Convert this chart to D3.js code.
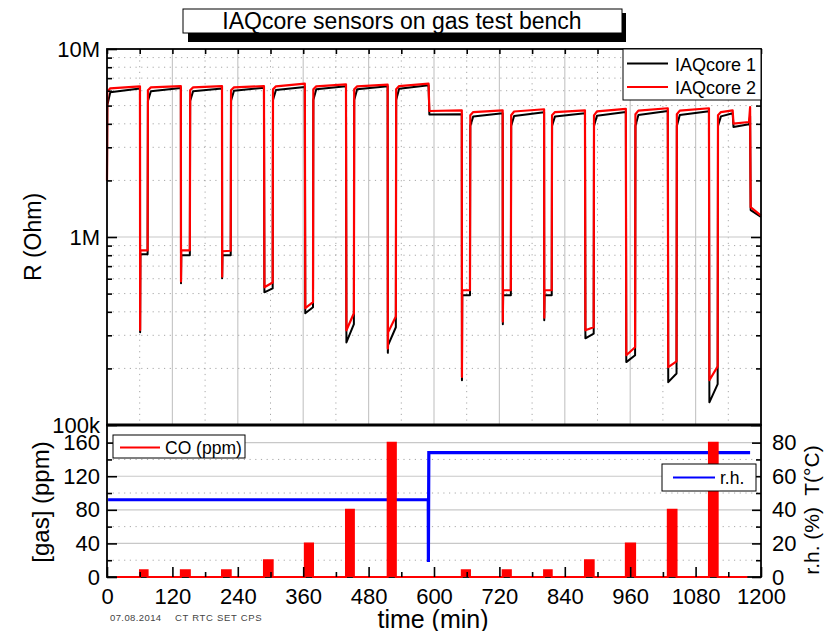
<!DOCTYPE html>
<html>
<head>
<meta charset="utf-8">
<script src="https://cdn.jsdelivr.net/npm/d3@7"></script>
<style>
  body { margin: 0; background: #fff; }
  svg { display: block; }
  text { font-family: "Liberation Sans", Arial, sans-serif; }
</style>
</head>
<body>
<svg width="830" height="631"></svg>
<script>
// gas pulses (min) and CO level (ppm)
const pulseStart = [60.5, 135.5, 211, 288, 363, 438.5, 515, 651, 726, 802, 877, 952, 1029, 1104.5]
const pulseEnd = [74.5, 152, 227, 304, 378, 453, 530, 666, 741, 816, 893, 969, 1045, 1120.5]
const coLevel = [8, 8, 8, 20, 40, 80, 160, 8, 8, 8, 20, 40, 80, 160]
const coRange = [18, 1175]

// IAQcore 1 (Ohm): low values during each pulse
const r1LowStart = [809e3, 800e3, 800e3, 508e3, 393e3, 275e3, 266e3, 490e3, 490e3, 490e3, 289e3, 216e3, 169e3, 132e3]
const r1LowEnd = [809e3, 800e3, 800e3, 533e3, 423e3, 344e3, 331e3, 490e3, 490e3, 490e3, 306e3, 235e3, 188e3, 165e3]
const r1Spike = [311e3, 567e3, 603e3, null, null, null, 242e3, 173e3, 344e3, 361e3, null, null, null, null]
// IAQcore 1: recovery between pulses (right after rise, a few min later, at end)
const r1Knee1 = [5.02e6, 5.3e6, 5.3e6, 5.3e6, 5.35e6, 5.35e6, 5.35e6, 5.35e6, 3.9e6, 3.9e6, 3.9e6, 3.9e6, 3.9e6, 3.9e6, 3.9e6]
const r1Knee2 = [5.88e6, 5.96e6, 5.96e6, 6.0e6, 6.05e6, 6.1e6, 6.1e6, 6.15e6, 4.38e6, 4.4e6, 4.38e6, 4.42e6, 4.45e6, 4.45e6, 4.38e6]
const r1Top = [6.16e6, 6.2e6, 6.16e6, 6.23e6, 6.28e6, 6.33e6, 6.33e6, 4.5e6, 4.55e6, 4.61e6, 4.55e6, 4.62e6, 4.68e6, 4.66e6, 1.28e6]

// IAQcore 2 (Ohm)
const r2LowStart = [849e3, 849e3, 840e3, 540e3, 418e3, 319e3, 311e3, 521e3, 521e3, 521e3, 319e3, 235e3, 203e3, 173e3]
const r2LowEnd = [849e3, 849e3, 845e3, 573e3, 450e3, 393e3, 378e3, 521e3, 521e3, 521e3, 331e3, 259e3, 218e3, 205e3]
const r2Spike = [320e3, 580e3, 615e3, null, null, null, 255e3, 180e3, 355e3, 372e3, null, null, null, null]
const r2Knee1 = [5.92e6, 6.03e6, 6.03e6, 6.03e6, 6.1e6, 6.1e6, 6.1e6, 6.1e6, 4.44e6, 4.44e6, 4.44e6, 4.44e6, 4.5e6, 4.5e6, 4.44e6]
const r2Knee2 = [6.18e6, 6.25e6, 6.25e6, 6.25e6, 6.33e6, 6.33e6, 6.33e6, 6.35e6, 4.62e6, 4.65e6, 4.62e6, 4.66e6, 4.7e6, 4.7e6, 4.62e6]
const r2Top = [6.33e6, 6.35e6, 6.35e6, 6.35e6, 6.55e6, 6.49e6, 6.47e6, 4.72e6, 4.72e6, 4.78e6, 4.72e6, 4.8e6, 4.84e6, 4.84e6, 1.3e6]

// steps (humidity change at 590 min, end of run)
const stepTime = [590, 591.5, 1148, 1149.5, 1178, 1180, 1181]
const r1Step = [6.41e6, 4.48e6, 4.55e6, 3.85e6, 3.98e6, 4.4e6, 1.39e6]
const r2Step = [6.55e6, 4.68e6, 4.72e6, 4.01e6, 4.09e6, 4.91e6, 1.44e6]
const rStart = 2.0e6

// relative humidity (%)
const rhTime = [2, 589.5, 589.7, 590.5, 1180]
const rhValue = [46, 46, 9, 74, 74]

// axes
const xTicks = [0, 120, 240, 360, 480, 600, 720, 840, 960, 1080, 1200]
const xMinor = [60, 180, 300, 420, 540, 660, 780, 900, 1020, 1140]
const rMajor = [1e5, 1e6, 1e7]
const rLabels = ['100k', '1M', '10M']
const gasTicks = [0, 40, 80, 120, 160]
const gasMinor = [20, 60, 100, 140]
const rhTicks = [0, 20, 40, 60, 80]
const rhMinor = [10, 30, 50, 70]

const seriesNames = ['IAQcore 1', 'IAQcore 2']
const seriesColors = ['#000000', '#ff0000']

const svg = d3.select('svg')
svg.append('rect').attr('width', 830).attr('height', 631).attr('fill', '#fff')

const pLeft = 107, pRight = 761, pTop = 49, pMid = 425, pBottom = 577
const x = d3.scaleLinear().domain([0, 1200]).range([pLeft, pRight])
const yR = d3.scaleLog().domain([1e5, 1e7]).range([pMid, pTop])
const yGas = d3.scaleLinear().domain([0, 181]).range([pBottom, pMid])
const yRh = d3.scaleLinear().domain([0, 90.5]).range([pBottom, pMid])
const rMinor = yR.ticks().filter(d => !rMajor.includes(d))

// grid
const grid = svg.append('g')
grid.selectAll('.gv').data(xTicks.slice(1, -1)).enter().append('line')
  .attr('x1', d => x(d)).attr('x2', d => x(d)).attr('y1', pTop).attr('y2', pMid)
  .attr('stroke', '#c8c8c8').attr('stroke-width', 1.2)
grid.selectAll('.gvm').data(xMinor).enter().append('line')
  .attr('x1', d => x(d)).attr('x2', d => x(d)).attr('y1', pTop).attr('y2', pMid)
  .attr('stroke', '#a8a8a8').attr('stroke-dasharray', '1.2,4.5')
grid.selectAll('.gh').data([1e6]).enter().append('line')
  .attr('x1', pLeft).attr('x2', pRight).attr('y1', d => yR(d)).attr('y2', d => yR(d))
  .attr('stroke', '#c8c8c8').attr('stroke-width', 1.2)
grid.selectAll('.ghm').data(rMinor).enter().append('line')
  .attr('x1', pLeft).attr('x2', pRight).attr('y1', d => yR(d)).attr('y2', d => yR(d))
  .attr('stroke', '#a8a8a8').attr('stroke-dasharray', '1.2,4.5')
grid.selectAll('.gg').data(gasTicks.slice(1)).enter().append('line')
  .attr('x1', pLeft).attr('x2', pRight).attr('y1', d => yGas(d)).attr('y2', d => yGas(d))
  .attr('stroke', '#c8c8c8').attr('stroke-width', 1.2)
grid.selectAll('.ggm').data(gasMinor).enter().append('line')
  .attr('x1', pLeft).attr('x2', pRight).attr('y1', d => yGas(d)).attr('y2', d => yGas(d))
  .attr('stroke', '#a8a8a8').attr('stroke-dasharray', '1.2,4.5')

// sensor series
function buildSeries(knee1, knee2, topR, lowStart, lowEnd, spike, stepR) {
  const pts = [[0, rStart]]
  for (let p = 0; p < 15; p++) {
    const t0 = p === 0 ? 0 : pulseEnd[p - 1]
    const t1 = p < 14 ? pulseStart[p] : 1200
    pts.push([t0 + 0.6, knee1[p]], [t0 + 6, knee2[p]])
    stepTime.forEach((t, i) => { if (t > t0 && t < t1) pts.push([t, stepR[i]]) })
    pts.push([t1, topR[p]])
    if (p < 14) {
      if (spike[p]) pts.push([t1 + 0.3, spike[p]])
      pts.push([t1 + 0.8, lowStart[p]], [pulseEnd[p], lowEnd[p]])
    }
  }
  return pts
}

const series = [
  buildSeries(r1Knee1, r1Knee2, r1Top, r1LowStart, r1LowEnd, r1Spike, r1Step),
  buildSeries(r2Knee1, r2Knee2, r2Top, r2LowStart, r2LowEnd, r2Spike, r2Step)
]

const lineR = d3.line().x(d => x(d[0])).y(d => yR(d[1]))
svg.append('g').selectAll('path').data(series).enter().append('path')
  .attr('d', lineR)
  .attr('fill', 'none')
  .attr('stroke', (d, i) => seriesColors[i])
  .attr('stroke-width', (d, i) => i ? 2.2 : 2)
  .attr('stroke-linejoin', 'round')

// CO
const coPts = [[coRange[0], 0]]
pulseStart.forEach((s, i) => {
  coPts.push([s, 0], [s, coLevel[i]], [pulseEnd[i], coLevel[i]], [pulseEnd[i], 0])
})
coPts.push([coRange[1], 0])
const lineGas = d3.line().x(d => x(d[0])).y(d => yGas(d[1]))

// r.h.
const rhPts = rhTime.map((t, i) => [t, rhValue[i]])
const lineRh = d3.line().x(d => x(d[0])).y(d => yRh(d[1]))
svg.append('path').attr('d', lineRh(rhPts))
  .attr('fill', 'none').attr('stroke', '#0000ff').attr('stroke-width', 3.2)

// frames
svg.append('rect').attr('x', pLeft).attr('y', pTop).attr('width', pRight - pLeft).attr('height', pMid - pTop)
  .attr('fill', 'none').attr('stroke', '#000').attr('stroke-width', 1.8)
svg.append('rect').attr('x', pLeft).attr('y', pMid).attr('width', pRight - pLeft).attr('height', pBottom - pMid)
  .attr('fill', 'none').attr('stroke', '#000').attr('stroke-width', 1.8)
svg.append('line').attr('x1', pLeft).attr('x2', pRight).attr('y1', pMid).attr('y2', pMid)
  .attr('stroke', '#000').attr('stroke-width', 3)

svg.append('path').attr('d', lineGas(coPts))
  .attr('fill', '#ff0000').attr('stroke', '#ff0000').attr('stroke-width', 2)

// ticks
function addAxis(axis, tx, ty, size) {
  const g = svg.append('g').attr('transform', `translate(${tx},${ty})`).call(axis)
  g.select('.domain').remove()
  g.selectAll('.tick line').attr('stroke-width', 1.6)
  g.attr('font-size', size || 22).attr('font-family', '"Liberation Sans", Arial, sans-serif')
  g.selectAll('text').attr('fill', '#000')
  return g
}

const plain = d3.format('d')
addAxis(d3.axisLeft(yR).tickValues(rMajor).tickFormat((d, i) => rLabels[i]).tickSizeInner(-10).tickSizeOuter(0).tickPadding(7), pLeft, 0)
addAxis(d3.axisLeft(yR).tickValues(rMinor).tickFormat('').tickSizeInner(-5).tickSizeOuter(0), pLeft, 0)
addAxis(d3.axisRight(yR).tickValues(rMajor).tickFormat('').tickSizeInner(-10).tickSizeOuter(0), pRight, 0)
addAxis(d3.axisRight(yR).tickValues(rMinor).tickFormat('').tickSizeInner(-5).tickSizeOuter(0), pRight, 0)
addAxis(d3.axisTop(x).tickValues(xTicks.concat(xMinor)).tickFormat('').tickSizeInner(-5).tickSizeOuter(0), 0, pTop)

addAxis(d3.axisBottom(x).tickValues(xTicks).tickFormat(plain).tickSizeInner(-10).tickSizeOuter(0).tickPadding(11), 0, pBottom)
addAxis(d3.axisBottom(x).tickValues(xMinor).tickFormat('').tickSizeInner(-5).tickSizeOuter(0), 0, pBottom)
addAxis(d3.axisLeft(yGas).tickValues(gasTicks).tickFormat(plain).tickSizeInner(-10).tickSizeOuter(0).tickPadding(7), pLeft, 0)
addAxis(d3.axisLeft(yGas).tickValues(gasMinor).tickFormat('').tickSizeInner(-5).tickSizeOuter(0), pLeft, 0)
addAxis(d3.axisRight(yRh).tickValues(rhTicks).tickFormat(plain).tickSizeInner(-9).tickSizeOuter(0).tickPadding(11), pRight, 0)
addAxis(d3.axisRight(yRh).tickValues(rhMinor).tickFormat('').tickSizeInner(-5).tickSizeOuter(0), pRight, 0)

// axis titles
svg.append('text').attr('transform', 'translate(33,237) rotate(-90)')
  .attr('text-anchor', 'middle').attr('dominant-baseline', 'central')
  .attr('font-size', 23).text('R (Ohm)')
svg.append('text').attr('transform', 'translate(40,502) rotate(-90)')
  .attr('text-anchor', 'middle').attr('dominant-baseline', 'central')
  .attr('font-size', 24).text('[gas] (ppm)')
svg.append('text').attr('transform', 'translate(811,510) rotate(-90)')
  .attr('text-anchor', 'middle').attr('dominant-baseline', 'central')
  .attr('font-size', 21).attr('xml:space', 'preserve').text('r.h. (%)  T(°C)')
svg.append('text').attr('x', 433).attr('y', 628).attr('text-anchor', 'middle')
  .attr('font-size', 25).text('time (min)')

// footer
svg.append('text').attr('x', 110).attr('y', 621).attr('font-size', 9.5).attr('fill', '#444')
  .attr('letter-spacing', 0.4).text('07.08.2014')
svg.append('text').attr('x', 175).attr('y', 621).attr('font-size', 9.5).attr('fill', '#444')
  .attr('letter-spacing', 0.7).text('CT RTC SET CPS')

// title
svg.append('rect').attr('x', 188).attr('y', 13).attr('width', 438).attr('height', 29).attr('fill', '#000')
svg.append('rect').attr('x', 183).attr('y', 9).attr('width', 439).attr('height', 24)
  .attr('fill', '#fff').attr('stroke', '#000').attr('stroke-width', 1)
svg.append('text').attr('x', 402).attr('y', 29).attr('text-anchor', 'middle')
  .attr('font-size', 23).text('IAQcore sensors on gas test bench')

// legends
const leg1 = svg.append('g')
leg1.append('rect').attr('x', 623).attr('y', pTop).attr('width', pRight - 623).attr('height', 51)
  .attr('fill', '#fff').attr('stroke', '#000').attr('stroke-width', 1)
seriesNames.forEach((name, i) => {
  const ly = 63.5 + i * 23.5
  leg1.append('line').attr('x1', 627).attr('x2', 668).attr('y1', ly).attr('y2', ly)
    .attr('stroke', seriesColors[i]).attr('stroke-width', 2)
  leg1.append('text').attr('x', 675).attr('y', ly + 7).attr('font-size', 18).text(name)
})

const leg2 = svg.append('g')
leg2.append('rect').attr('x', 113).attr('y', 435).attr('width', 132).attr('height', 23)
  .attr('fill', '#fff').attr('stroke', '#000').attr('stroke-width', 1)
leg2.append('line').attr('x1', 120).attr('x2', 160).attr('y1', 447.5).attr('y2', 447.5)
  .attr('stroke', '#ff0000').attr('stroke-width', 2)
leg2.append('text').attr('x', 165).attr('y', 454).attr('font-size', 17.5).text('CO (ppm)')

const leg3 = svg.append('g')
leg3.append('rect').attr('x', 662).attr('y', 464).attr('width', 94).attr('height', 27)
  .attr('fill', '#fff').attr('stroke', '#000').attr('stroke-width', 1)
leg3.append('line').attr('x1', 673).attr('x2', 715).attr('y1', 477.5).attr('y2', 477.5)
  .attr('stroke', '#0000ff').attr('stroke-width', 2)
leg3.append('text').attr('x', 720).attr('y', 484).attr('font-size', 17.5).text('r.h.')
</script>
</body>
</html>
